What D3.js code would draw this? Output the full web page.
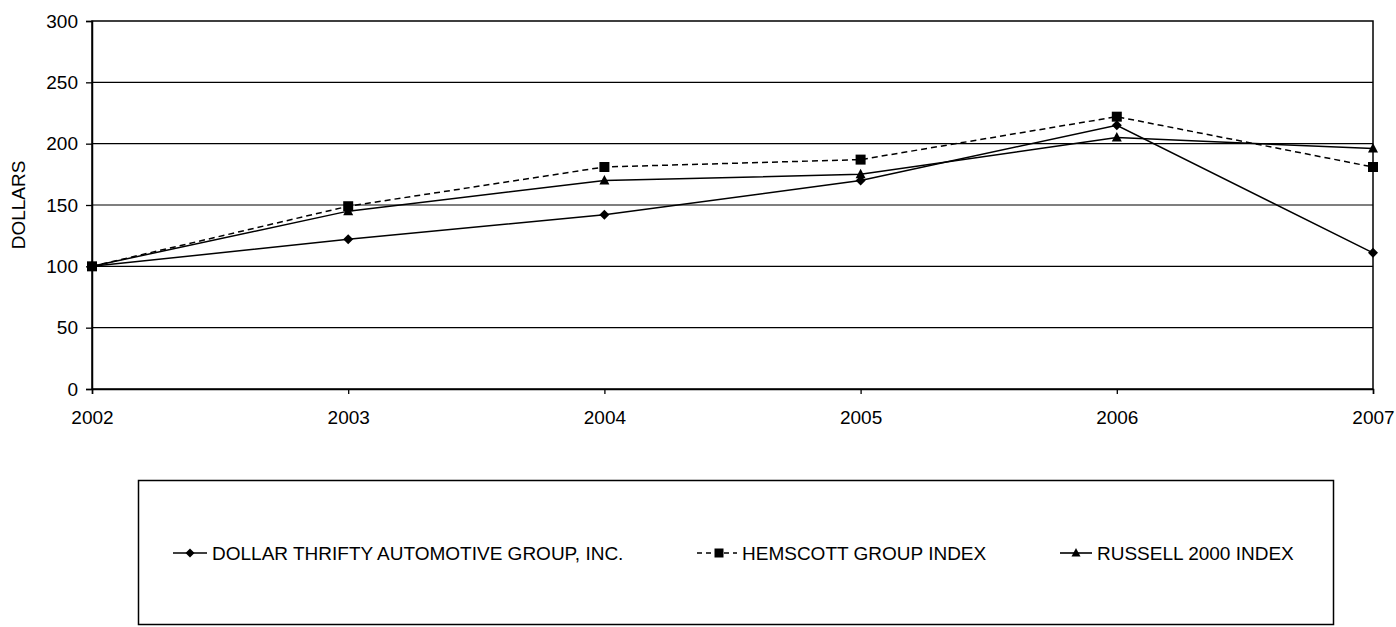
<!DOCTYPE html>
<html>
<head>
<meta charset="utf-8">
<script src="https://cdn.jsdelivr.net/npm/d3@7"></script>
<style>
  html, body { margin: 0; padding: 0; background: #fff; }
  svg { display: block; }
  text { font-family: "Liberation Sans", Arial, sans-serif; fill: #000; }
</style>
</head>
<body>
<svg id="chart" width="1396" height="627"></svg>
<script>
const years = [2002, 2003, 2004, 2005, 2006, 2007];
const dollarThrifty = [100, 122, 142, 170, 215, 111];
const hemscott = [100, 149, 181, 187, 222, 181];
const russell = [100, 145, 170, 175, 205, 196];
const yTicks = [0, 50, 100, 150, 200, 250, 300];
const seriesNames = ["DOLLAR THRIFTY AUTOMOTIVE GROUP, INC.", "HEMSCOTT GROUP INDEX", "RUSSELL 2000 INDEX"];
const yLabel = "DOLLARS";

const series = [
  { name: seriesNames[0], values: dollarThrifty, marker: "diamond", dash: null },
  { name: seriesNames[1], values: hemscott, marker: "square", dash: "6,4" },
  { name: seriesNames[2], values: russell, marker: "triangle", dash: null }
];

const svg = d3.select("#chart");
const m = { left: 92, right: 23, top: 21, bottom: 238 };
const W = 1396, H = 627;
const FS = "19px";

const x = d3.scaleLinear().domain([2002, 2007]).range([m.left, W - m.right]);
const y = d3.scaleLinear().domain([0, 300]).range([H - m.bottom, m.top]);

// grid lines
svg.append("g").selectAll("line").data(yTicks.filter(d => d > 0 && d < 300)).join("line")
  .attr("x1", x(2002)).attr("x2", x(2007))
  .attr("y1", d => y(d)).attr("y2", d => y(d))
  .attr("stroke", "#000").attr("stroke-width", 1.2);

// border
svg.append("rect")
  .attr("x", x(2002)).attr("y", y(300))
  .attr("width", x(2007) - x(2002)).attr("height", y(0) - y(300))
  .attr("fill", "none").attr("stroke", "#000").attr("stroke-width", 1.5);

// axes
const yAxis = d3.axisLeft(y).tickValues(yTicks).tickSize(6).tickPadding(8);
const gy = svg.append("g").attr("transform", `translate(${x(2002)},0)`).call(yAxis);
gy.select(".domain").attr("stroke", "#000").attr("stroke-width", 1.5);
gy.selectAll(".tick line").attr("stroke-width", 1.3);
gy.selectAll("text").style("font-size", FS).style("font-family", "Liberation Sans, Arial, sans-serif");

const xAxis = d3.axisBottom(x).tickValues(years).tickFormat(d3.format("d")).tickSize(5).tickPadding(17);
const gx = svg.append("g").attr("transform", `translate(0,${y(0)})`).call(xAxis);
gx.select(".domain").attr("stroke", "#000").attr("stroke-width", 1.5);
gx.selectAll(".tick line").attr("stroke-width", 1.3);
gx.selectAll("text").style("font-size", FS).style("font-family", "Liberation Sans, Arial, sans-serif");

svg.append("text")
  .attr("transform", `translate(25,${(y(0) + y(300)) / 2}) rotate(-90)`)
  .attr("text-anchor", "middle")
  .style("font-size", FS)
  .text(yLabel);

function markerPath(type, s) {
  if (type === "diamond") return `M0,${-s}L${s},0L0,${s}L${-s},0Z`;
  if (type === "square") return `M${-s},${-s}H${s}V${s}H${-s}Z`;
  return `M0,${-s * 1.1}L${s},${s * 0.8}L${-s},${s * 0.8}Z`;
}
const msize = { diamond: 5, square: 5, triangle: 5 };

const line = d3.line().x((d, i) => x(years[i])).y(d => y(d));

series.forEach(s => {
  svg.append("path")
    .attr("d", line(s.values))
    .attr("fill", "none").attr("stroke", "#000").attr("stroke-width", 1.5)
    .attr("stroke-dasharray", s.dash);
});
series.forEach(s => {
  svg.append("g").selectAll("path").data(s.values).join("path")
    .attr("transform", (d, i) => `translate(${x(years[i])},${y(d)})`)
    .attr("d", markerPath(s.marker, msize[s.marker]))
    .attr("fill", "#000");
});

// legend
const lg = svg.append("g");
lg.append("rect").attr("x", 138.5).attr("y", 480.5).attr("width", 1195).attr("height", 144)
  .attr("fill", "none").attr("stroke", "#000").attr("stroke-width", 1.5);
const legendX = [173, 697, 1060];
const symW = [34, 40, 32];
const ly = 553;
series.forEach((s, i) => {
  const g = lg.append("g").attr("transform", `translate(${legendX[i]},${ly})`);
  g.append("line").attr("x1", 0).attr("x2", symW[i]).attr("y1", 0).attr("y2", 0)
    .attr("stroke", "#000").attr("stroke-width", 1.6)
    .attr("stroke-dasharray", s.dash ? "5,4" : null);
  g.append("path").attr("transform", `translate(${i === 1 ? 22 : symW[i] / 2},0)`)
    .attr("d", markerPath(s.marker, 4.5)).attr("fill", "#000");
  g.append("text").attr("x", symW[i] + 5).attr("y", 7).style("font-size", FS).text(s.name);
});
</script>
</body>
</html>
